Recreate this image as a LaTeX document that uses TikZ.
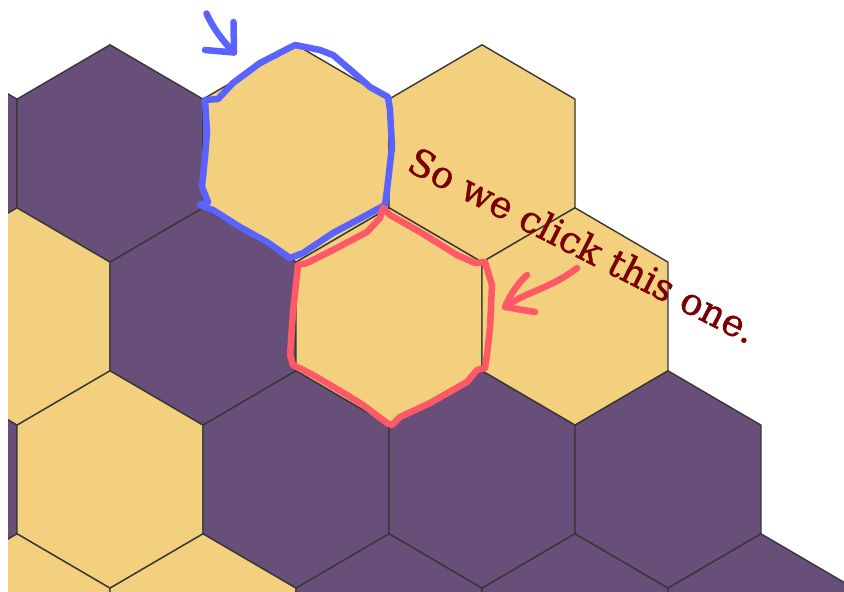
\documentclass[tikz,border=0pt]{standalone}
\usepackage{fontspec}
\newfontfamily\annofont[FakeBold=1.2]{DejaVu Serif}
\definecolor{hexpurple}{RGB}{104,79,122}
\definecolor{hexyellow}{RGB}{242,208,125}
\definecolor{hexedge}{RGB}{55,55,55}
\definecolor{penblue}{RGB}{90,98,255}
\definecolor{penred}{RGB}{255,88,102}
\definecolor{notered}{RGB}{122,0,0}
\begin{document}
\begin{tikzpicture}[x=1pt,y=-1pt,
  hexcell/.style={draw=hexedge, line width=1.4pt, line join=round},
  pen/.style={line width=6.5pt, line cap=round, line join=round},
  note/.style={font=\annofont\fontsize{37}{40}\selectfont, text=notered, inner sep=0pt}]
\useasboundingbox (0,0) rectangle (844,592);
\begin{scope}
\clip (8,0) rectangle (844,592);
\foreach \cx/\cy/\c in {-76/153.5/hexpurple, 110/153.5/hexpurple, 296/153.5/hexyellow, 482/153.5/hexyellow,
  17/316.5/hexyellow, 203/316.5/hexpurple, 389/316.5/hexyellow, 575/316.5/hexyellow,
  -76/479.5/hexpurple, 110/479.5/hexyellow, 296/479.5/hexpurple, 482/479.5/hexpurple, 668/479.5/hexpurple,
  17/642.5/hexyellow, 203/642.5/hexyellow, 389/642.5/hexpurple, 575/642.5/hexpurple, 761/642.5/hexpurple}
  \draw[hexcell, fill=\c] ({\cx},{\cy-108.7}) -- ({\cx+93},{\cy-54.35}) -- ({\cx+93},{\cy+54.35})
     -- ({\cx},{\cy+108.7}) -- ({\cx-93},{\cy+54.35}) -- ({\cx-93},{\cy-54.35}) -- cycle;
\end{scope}
% blue hand-drawn outline
\draw[pen, draw=penblue] (205,100) -- (218,99) -- (233,83) -- (260,63) -- (295,45) -- (320,50) -- (333,55)
  -- (353,72) -- (370,87) -- (388,97) -- (390,110) -- (392,147) -- (387,190) -- (385,205) -- (363,217)
  -- (333,233) -- (303,253) -- (290,258) -- (267,242) -- (240,227) -- (213,210) -- (200,205) -- (208,202)
  -- (202,187) -- (205,157) -- (207,133) -- (205,100);
% blue arrow
\draw[pen, draw=penblue] (206.5,13.5) .. controls (213,28) and (222,40) .. (234,52.5);
\draw[pen, draw=penblue] (205,50) -- (234,52.5) -- (233.5,22);
% red hand-drawn outline
\draw[pen, draw=penred] (383,208) -- (390,215) -- (420,232) -- (457,255) -- (475,263) -- (485,262)
  -- (492,285) -- (490,328) -- (487,355) -- (485,368) -- (477,370) -- (467,382) -- (430,403) -- (400,417)
  -- (392,425) -- (387,423) -- (363,405) -- (347,395) -- (313,375) -- (293,365) -- (290,355) -- (293,312)
  -- (298,265) -- (307,263) -- (333,250) -- (367,232) -- (380,218) -- (383,208);
% red arrow
\draw[pen, draw=penred] (577,268) .. controls (552,288) and (525,292) .. (505,307);
\draw[pen, draw=penred] (527,275) .. controls (518,283) and (510,295) .. (505,307) -- (535,312);
% annotation text
\node[note, rotate=-27, anchor=center] (note) at (583,245) {So we click this one.};
\end{tikzpicture}
\end{document}
